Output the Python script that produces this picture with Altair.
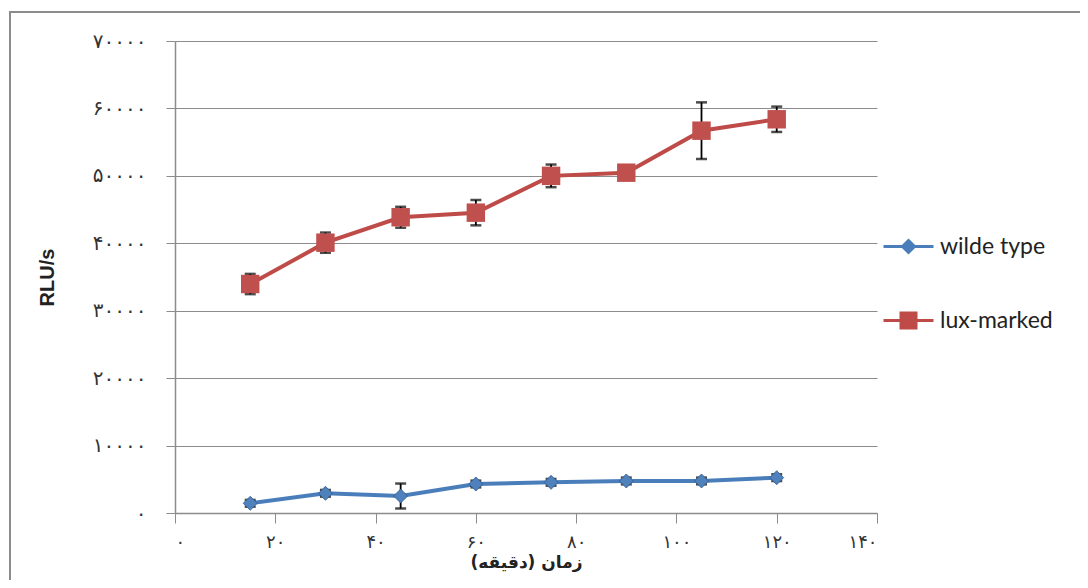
import altair as alt
import pandas as pd

# ---- data ----
x_minutes = [15, 30, 45, 60, 75, 90, 105, 120]
wild_vals = [1440, 2920, 2520, 4300, 4550, 4750, 4750, 5240]
wild_err = [500, 500, 1850, 500, 500, 500, 500, 500]
lux_vals = [33960, 40090, 43860, 44540, 50000, 50470, 56700, 58390]
lux_err = [1500, 1500, 1550, 1880, 1680, 500, 4200, 1880]
series_names = ["wilde type", "lux-marked"]
series_colors = ["#4A7EBB", "#BE4B48"]
marker_colors = ["#4F81BD", "#C0504D"]

y_tick_values = [0, 10000, 20000, 30000, 40000, 50000, 60000, 70000]
y_tick_labels = ["۰", "۱۰۰۰۰", "۲۰۰۰۰", "۳۰۰۰۰", "۴۰۰۰۰", "۵۰۰۰۰", "۶۰۰۰۰", "۷۰۰۰۰"]
x_tick_values = [0, 20, 40, 60, 80, 100, 120, 140]
x_tick_labels = ["۰", "۲۰", "۴۰", "۶۰", "۸۰", "۱۰۰", "۱۲۰", "۱۴۰"]
x_title = "زمان (دقیقه)"
y_title = "RLU/s"

rows = []
for name, vals, errs in [(series_names[0], wild_vals, wild_err), (series_names[1], lux_vals, lux_err)]:
    for xv, v, e in zip(x_minutes, vals, errs):
        rows.append({"x": xv, "y": v, "lo": v - e, "hi": v + e, "series": name})
df = pd.DataFrame(rows)


def label_expr(values, labels):
    vs = ",".join(str(v) for v in values)
    ls = ",".join("'" + l + "'" for l in labels)
    return f"[{ls}][indexof([{vs}], datum.value)]"


x_scale = alt.Scale(domain=[0, 140], nice=False, zero=False)
y_scale = alt.Scale(domain=[0, 70000], nice=False)
color_scale = alt.Scale(domain=series_names, range=series_colors)

x_axis = alt.Axis(
    values=x_tick_values, labelExpr=label_expr(x_tick_values, x_tick_labels),
    grid=False, domainColor="#8c8c8c", domainWidth=1.5, tickColor="#8c8c8c", tickSize=10,
    labelFont="DejaVu Sans", labelFontSize=18, labelColor="#333333", labelPadding=10,
    title=x_title, titleFont="DejaVu Sans", titleFontSize=17, titleFontWeight="bold",
    titleColor="#222222", titlePadding=3,
)
y_axis = alt.Axis(
    values=y_tick_values, labelExpr=label_expr(y_tick_values, y_tick_labels),
    grid=True, gridColor="#8c8c8c", gridWidth=1, domainColor="#8c8c8c", domainWidth=1.5,
    tickColor="#8c8c8c", tickSize=9,
    labelFont="DejaVu Sans", labelFontSize=20, labelColor="#333333", labelPadding=20,
    title=y_title, titleFont="Liberation Sans", titleFontSize=20, titleFontWeight="bold",
    titleColor="#222222", titlePadding=35,
)

base = alt.Chart(df)

frame = base.mark_rect(fill=None, stroke="#8c8c8c", strokeWidth=2, clip=False).encode(
    x=alt.value(-165), x2=alt.value(930), y=alt.value(-29), y2=alt.value(600)
).transform_filter(alt.datum.x == 15).transform_filter(alt.datum.series == series_names[0])

line_wild = base.transform_filter(alt.datum.series == series_names[0]).mark_line(
    strokeWidth=4, color=series_colors[0]
).encode(
    x=alt.X("x:Q", scale=x_scale, axis=x_axis),
    y=alt.Y("y:Q", scale=y_scale, axis=y_axis),
)
line_lux = base.transform_filter(alt.datum.series == series_names[1]).mark_line(
    strokeWidth=4, color=series_colors[1]
).encode(x="x:Q", y="y:Q")

err_rule = base.mark_rule(color="black", strokeWidth=1.8).encode(
    x="x:Q", y="lo:Q", y2="hi:Q"
)
err_lo = base.mark_tick(color="black", orient="horizontal", size=11, thickness=2.5).encode(
    x="x:Q", y="lo:Q"
)
err_hi = base.mark_tick(color="black", orient="horizontal", size=11, thickness=2.5).encode(
    x="x:Q", y="hi:Q"
)

pts_wild = base.transform_filter(alt.datum.series == series_names[0]).mark_point(
    shape="diamond", filled=True, size=196, opacity=1, color=marker_colors[0],
    stroke="#2f5a8f", strokeWidth=0.8,
).encode(x="x:Q", y="y:Q")

pts_lux = base.transform_filter(alt.datum.series == series_names[1]).mark_point(
    shape="square", filled=True, size=340, opacity=1, color=marker_colors[1],
).encode(x="x:Q", y="y:Q")

legend_paths = [
    "M-1,0L1,0M0,-0.24L0.24,0L0,0.24L-0.24,0Z",
    "M-1,0L1,0M-0.3,-0.3L0.3,-0.3L0.3,0.3L-0.3,0.3Z",
]


def make_legend():
    return alt.Legend(title=None, orient="none", legendX=707, legendY=179,
                      symbolSize=2500, symbolStrokeWidth=3, symbolOpacity=1,
                      rowPadding=35, labelOffset=5,
                      labelFont="Lato", labelFontSize=23, labelColor="#222222")


# legend-only layer: no rows are drawn, the legend comes from the explicit scale domains
legend_layer = base.transform_filter("false").mark_point(filled=True, size=2500, strokeWidth=3).encode(
    x="x:Q", y="y:Q",
    fill=alt.Fill("series:N", scale=color_scale, legend=make_legend()),
    stroke=alt.Stroke("series:N", scale=color_scale, legend=make_legend()),
    shape=alt.Shape("series:N", scale=alt.Scale(domain=series_names, range=legend_paths),
                    legend=make_legend()),
)

chart = alt.layer(
    frame, line_wild, line_lux, err_rule, err_lo, err_hi, pts_wild, pts_lux, legend_layer
).properties(
    width=702, height=472,
    autosize=alt.AutoSizeParams(type="none"),
    padding={"left": 167, "top": 33, "right": 203, "bottom": 67},
    background="white",
).configure_view(stroke=None)

chart.save("out.html", embed_options={"renderer": "svg", "actions": False})
